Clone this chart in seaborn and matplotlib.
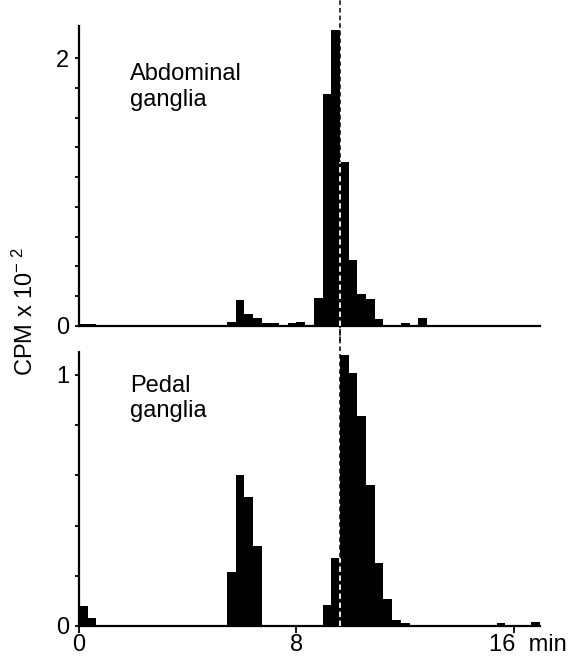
#! /usr/bin/env python3

import numpy as np
import pandas as pd
import seaborn as sns
import matplotlib
matplotlib.use('Agg')
import matplotlib.pyplot as plt

# one fraction = 0.32 min, 53 fractions collected
fraction_width = 0.32
abdominal_cpm = [0.012, 0.012, 0, 0, 0, 0, 0, 0, 0, 0,
                 0, 0, 0, 0, 0, 0, 0.005, 0.025, 0.19, 0.088,
                 0.055, 0.018, 0.018, 0.005, 0.018, 0.025, 0, 0.21, 1.73, 2.21,
                 1.22, 0.49, 0.24, 0.2, 0.05, 0, 0, 0.022, 0, 0.055,
                 0, 0, 0, 0, 0, 0, 0, 0, 0, 0,
                 0, 0, 0]
pedal_cpm = [0.08, 0.033, 0, 0, 0.003, 0.003, 0.003, 0, 0, 0,
             0, 0, 0, 0, 0, 0, 0, 0.215, 0.6, 0.515,
             0.32, 0, 0.003, 0.003, 0.003, 0, 0, 0, 0.085, 0.27,
             1.08, 1.007, 0.836, 0.56, 0.25, 0.108, 0.023, 0.013, 0, 0,
             0, 0, 0, 0, 0, 0, 0, 0, 0.013, 0,
             0, 0, 0.015]
marker_time = 9.6
panel_names = ['Abdominal\nganglia', 'Pedal\nganglia']


def make_frame(values):
    n = len(values)
    start = np.arange(n) * fraction_width
    return pd.DataFrame({'time': start + fraction_width / 2, 'cpm': values})


def draw_panel(ax, values, ymax, name, label_y):
    total = len(values) * fraction_width
    sns.histplot(data=make_frame(values), x='time', weights='cpm',
                 binwidth=fraction_width, binrange=(0, total),
                 color='black', alpha=1, linewidth=0, ax=ax)
    ax.set_xlim(0, total)
    ax.set_ylim(0, ymax)
    ax.set_xlabel('')
    ax.set_ylabel('')
    for side in ['top', 'right']:
        ax.spines[side].set_visible(False)
    for side in ['left', 'bottom']:
        ax.spines[side].set_linewidth(1.6)
        ax.spines[side].set_color('black')
    ax.text(1.88, label_y, name, fontsize=17, va='top')
    # white dash over the part of the marker that lies inside the bars
    k = int(round(marker_time / fraction_width))
    inner = min(values[k - 1], values[k])
    ax.vlines(marker_time, 0, inner, colors='white', linestyles=(0, (3, 2)),
              linewidth=1.3, zorder=5)


sns.set_style('ticks')
plt.rcParams['font.family'] = ['Liberation Sans', 'DejaVu Sans']
plt.rcParams['mathtext.default'] = 'regular'
for key in ['text.color', 'axes.labelcolor', 'xtick.color', 'ytick.color']:
    plt.rcParams[key] = 'black'

fig = plt.figure(figsize=(5.73, 6.62), dpi=100)
ax1 = fig.add_axes([0.1379, 0.508, 0.8045, 0.4527])
ax2 = fig.add_axes([0.1379, 0.0544, 0.8045, 0.4144])

draw_panel(ax1, abdominal_cpm, 2.24, panel_names[0], 1.96)
draw_panel(ax2, pedal_cpm, 1.093, panel_names[1], 1.0)

# black dashed marker running through both panels
ax1.axvline(marker_time, ymin=-0.05, ymax=1.09, color='black',
            linestyle=(0, (3, 2)), linewidth=1.1, clip_on=False, zorder=4)
ax2.axvline(marker_time, ymin=0, ymax=1.09, color='black',
            linestyle=(0, (3, 2)), linewidth=1.1, clip_on=False, zorder=4)

ax1.set_yticks([0, 2])
ax1.set_yticklabels(['0', '2'])
ax1.set_yticks(np.arange(1, 9) * 2 / 9, minor=True)
ax1.tick_params(axis='x', bottom=False, labelbottom=False)

ax2.set_yticks([0, 1])
ax2.set_yticklabels(['0', '1'])
ax2.set_yticks([0.2, 0.4, 0.6, 0.8], minor=True)
ax2.set_xticks([0, 8, 16])
ax2.set_xticklabels(['0', '8', ''])
ax2.annotate('16  min', xy=(16, 0), xycoords=('data', 'axes fraction'),
             xytext=(-18, -6), textcoords='offset points',
             ha='left', va='top', fontsize=17)

for ax in [ax1, ax2]:
    ax.tick_params(axis='y', which='both', length=3, width=1.3, pad=4,
                   labelsize=17, direction='out', color='black')
    ax.tick_params(axis='x', length=5, width=1.3, pad=1, labelsize=17,
                   color='black')

fig.text(25 / 573, 0.53, 'CPM x 10$^{-\\ 2}$', rotation=90, fontsize=17,
         ha='center', va='center')

print("# Saving to out.png")
fig.savefig('out.png', dpi=100)
